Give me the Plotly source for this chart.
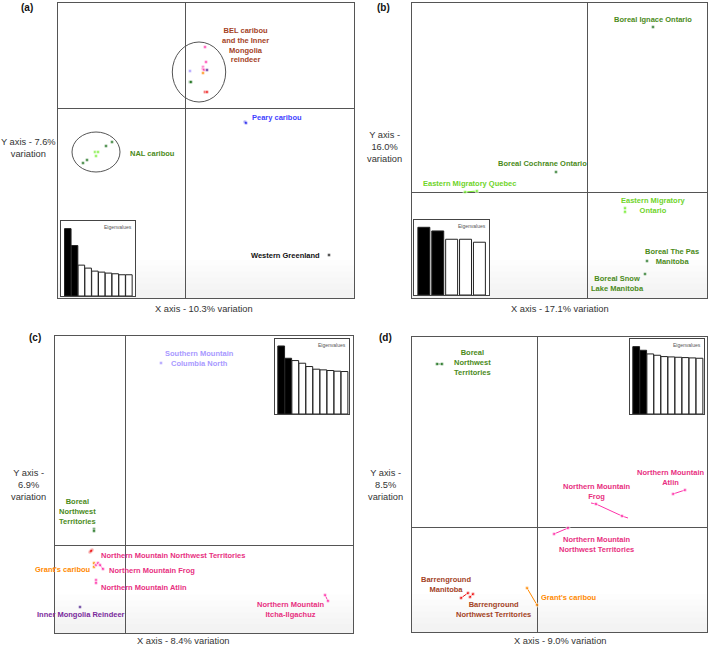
import plotly.graph_objects as go

W, H = 709, 646

# colours
DKGREEN = "#166d16"
LTGREEN = "#77ee33"
PINK = "#ff33aa"
RED = "#ee1111"
ORANGE = "#ff8800"
LAVENDER = "#a08fff"
INDIGO = "#4b1a8c"
BLUE = "#2525ee"
BLACK = "#111111"

L_BROWN = "#a3431f"
L_GREEN = "#4b8b1a"
L_LTGREEN = "#6fd42a"
L_PINK = "#e8307f"
L_LAV = "#a899ff"
L_PURPLE = "#7b2a9c"
L_BLUE = "#3f3fff"
L_ORANGE = "#ff8a00"

# ---- panel (a) ----
a_groups = [
    (PINK, [20, 21, 18, 18, 19], [61, 46, 41, 39, 38]),
    (INDIGO, [22], [38]),
    (ORANGE, [18], [35]),
    (LAVENDER, [5], [37]),
    (DKGREEN, [5, 6], [26, 26]),
    (RED, [20, 22], [16, 16]),
    (BLUE, [60, 61], [-14, -15]),
    (DKGREEN, [-73, -79, -98, -102], [-34, -38, -52, -55]),
    (LTGREEN, [-90, -87, -89], [-44, -44, -48]),
    (BLACK, [144], [-147]),
]
a_ellipses = [(14, 36, 26.7, 30), (-89, -44, 24, 20)]
a_labels = [
    ("BEL caribou<br>and the Inner<br>Mongolia<br>reindeer", 60, 63, L_BROWN, "center"),
    ("Peary caribou", 65, -9, L_BLUE, "left"),
    ("NAL caribou", -57, -45, L_GREEN, "left"),
    ("Western Greenland", 137, -147, BLACK, "right"),
]
eig_a = [203, 152, 93, 84, 75, 72, 69, 67, 64, 64]

# ---- panel (b) ----
b_groups = [
    (DKGREEN, [66], [165]),
    (DKGREEN, [-31], [20]),
    (LTGREEN, [-122, -110], [0, 1]),
    (LTGREEN, [38, 38], [-16, -20]),
    (DKGREEN, [60], [-69]),
    (DKGREEN, [58], [-82]),
]
b_labels = [
    ("Boreal Ignace Ontario", 66, 173, L_GREEN, "center"),
    ("Boreal Cochrane Ontario", -45, 29, L_GREEN, "center"),
    ("Eastern Migratory Quebec", -118, 9, L_LTGREEN, "center"),
    ("Eastern Migratory<br>Ontario", 66, -13, L_LTGREEN, "center"),
    ("Boreal The Pas<br>Manitoba", 85, -64, L_GREEN, "center"),
    ("Boreal Snow<br>Lake Manitoba", 30, -91, L_GREEN, "center"),
]
eig_b = [204, 193, 168, 168, 159]

# ---- panel (c) ----
c_groups = [
    (LAVENDER, [36], [182]),
    (DKGREEN, [-31, -31], [16, 14]),
    (RED, [-35, -33, -34], [-7, -5, -6]),
    (ORANGE, [-31, -31], [-18, -22]),
    (PINK, [-29, -27], [-20, -18]),
    (PINK, [-25, -22], [-20, -24]),
    (PINK, [-29, -29], [-35, -38]),
    (INDIGO, [-45], [-62]),
    (PINK, [200, 203], [-50, -56]),
]
c_labels = [
    ("Southern Mountain<br>Columbia North", 74, 187, L_LAV, "center"),
    ("Boreal<br>Northwest<br>Territories", -48, 34, L_GREEN, "center"),
    ("Barrenground<br>Northwest Territories<br>and Manitoba", -75, -4, L_BROWN, "center"),
    ("Grant's caribou", -62, -24, L_ORANGE, "center"),
    ("Northern Mountain Northwest Territories", -26, -10, L_PINK, "left"),
    ("Northern Mountain Frog", -18, -25, L_PINK, "left"),
    ("Northern Mountain Atlin", -26, -42, L_PINK, "left"),
    ("Inner Mongolia Reindeer", -44, -69, L_PURPLE, "center"),
    ("Northern Mountain<br>Itcha-Ilgachuz", 165, -64, L_PINK, "center"),
]
eig_c = [205, 168, 161, 153, 143, 135, 133, 131, 129, 128]

# ---- panel (d) ----
d_groups = [
    (DKGREEN, [-100, -95], [163, 163]),
    (PINK, [136, 148], [33, 37]),
    (PINK, [54, 59, 85, 91], [24, 23, 11, 9]),
    (PINK, [17, 31], [-7, -1]),
    (RED, [-76, -69], [-71, -66]),
    (RED, [-67, -64], [-70, -67]),
    (ORANGE, [-10, 0], [-61, -78]),
]
d_labels = [
    ("Boreal<br>Northwest<br>Territories", -65, 165, L_GREEN, "center"),
    ("Northern Mountain<br>Atlin", 133, 50, L_PINK, "center"),
    ("Northern Mountain<br>Frog", 59, 36, L_PINK, "center"),
    ("Northern Mountain<br>Northwest Territories", 59, -17, L_PINK, "center"),
    ("Barrenground<br>Manitoba", -91, -57, L_BROWN, "center"),
    ("Barrenground<br>Northwest Territories", -44, -82, L_BROWN, "center"),
    ("Grant's caribou", 2, -70, L_ORANGE, "left"),
]
eig_d = [203, 192, 181, 177, 173, 172, 171, 170, 169, 168]

# panel layout in pixels: box (left, top, right, bottom), crosshair (cx, cy)
panels = [
    dict(box=(58, 3, 354, 298), c=(185, 108), groups=a_groups, labels=a_labels,
         eig=eig_a, inset=(61, 221, 135, 296), tag="(a)", tagpos=(27, 7),
         xt="X axis - 10.3% variation", xtpos=(204, 309),
         yt="Y axis - 7.6%<br>variation", ytpos=(28, 148), lines=False),
    dict(box=(412, 3, 707, 298), c=(587, 192), groups=b_groups, labels=b_labels,
         eig=eig_b, inset=(414, 220, 489, 295), tag="(b)", tagpos=(383, 7),
         xt="X axis - 17.1% variation", xtpos=(560, 309),
         yt="Y axis -<br>16.0%<br>variation", ytpos=(384, 147), lines=True),
    dict(box=(55, 336, 353, 633), c=(125, 545), groups=c_groups, labels=c_labels,
         eig=eig_c, inset=(275, 339, 349, 414), tag="(c)", tagpos=(35, 337),
         xt="X axis - 8.4% variation", xtpos=(183, 641),
         yt="Y axis -<br>6.9%<br>variation", ytpos=(28, 485), lines=True),
    dict(box=(412, 337, 707, 632), c=(537, 527), groups=d_groups, labels=d_labels,
         eig=eig_d, inset=(630, 339, 704, 414), tag="(d)", tagpos=(385, 337),
         xt="X axis - 9.0% variation", xtpos=(560, 641),
         yt="Y axis -<br>8.5%<br>variation", ytpos=(385, 485), lines=True),
]

FONT = "Liberation Sans, Arial, Helvetica, sans-serif"
LABEL_SIZE = 7.5
fig = go.Figure()
layout = dict(width=W, height=H, margin=dict(l=0, r=0, t=0, b=0),
              paper_bgcolor="white", plot_bgcolor="white", showlegend=False,
              font=dict(family=FONT), annotations=[], shapes=[])


def dom(x0, y0, x1, y1):
    return [x0 / W, x1 / W], [1 - y1 / H, 1 - y0 / H]


def px(x, y):
    return x / W, 1 - y / H


for i, p in enumerate(panels):
    n = i + 1
    k = "" if n == 1 else str(n)
    l, t, r, b = p["box"]
    cx, cy = p["c"]
    dx, dy = dom(l, t, r, b)
    ax = dict(showgrid=False, zeroline=True, zerolinecolor="#555", zerolinewidth=1,
              showticklabels=False, ticks="", showline=True, mirror=True,
              linecolor="#555", linewidth=1)
    layout["xaxis" + k] = dict(domain=dx, range=[l - cx, r - cx], anchor="y" + k, **ax)
    layout["yaxis" + k] = dict(domain=dy, range=[cy - b, cy - t], anchor="x" + k, **ax)
    # faint shading at bottom of each panel
    for j in range(6):
        layout["shapes"].append(dict(type="rect", xref="x" + k + " domain" if k else "x domain",
                                     yref="y" + k + " domain" if k else "y domain",
                                     x0=0, x1=1, y0=0, y1=0.13 - j * 0.02, line_width=0,
                                     fillcolor="rgba(0,0,0,0.007)", layer="below"))
    for col, xs, ys in p["groups"]:
        sizes = [4] * len(xs)
        if len(xs) == 4 and n == 4:
            sizes = [0, 4, 4, 0]
        fig.add_trace(go.Scatter(x=xs, y=ys, xaxis="x" + k, yaxis="y" + k,
                                 mode="lines+markers" if p["lines"] else "markers",
                                 line=dict(color=col, width=1),
                                 marker=dict(color=col, size=sizes), hoverinfo="skip"))
    for txt, x, y, col, anc in p["labels"]:
        layout["annotations"].append(dict(text="<b>" + txt + "</b>", x=x, y=y,
                                          xref="x" + k, yref="y" + k, showarrow=False,
                                          xanchor=anc, yanchor="middle", align=anc,
                                          font=dict(size=LABEL_SIZE, color=col, family=FONT)))
    if n == 1:
        for ex, ey, rx, ry in a_ellipses:
            layout["shapes"].append(dict(type="circle", xref="x", yref="y",
                                         x0=ex - rx, x1=ex + rx, y0=ey - ry, y1=ey + ry,
                                         line=dict(color="#555", width=1)))
    # inset eigenvalue bars
    m = n + 4
    il, it, ir, ib = p["inset"]
    idx, idy = dom(il, it, ir, ib)
    eig = p["eig"]
    nb = len(eig)
    if nb == 5:
        xr = [-0.71, 4.69]
        gap = 0.14
    elif n == 1:
        xr = [-1.0, 9.9]
        gap = 0.04
    else:
        xr = [-0.88, 9.64]
        gap = 0.04
    fig.add_trace(go.Bar(x=list(range(nb)), y=eig, xaxis="x%d" % m, yaxis="y%d" % m,
                         marker=dict(color=["black"] * 2 + ["white"] * (nb - 2),
                                     line=dict(color="#222", width=1)),
                         width=1 - gap, hoverinfo="skip"))
    layout["xaxis%d" % m] = dict(domain=idx, range=xr, anchor="y%d" % m,
                                 showgrid=False, zeroline=False, showticklabels=False,
                                 ticks="", showline=True, mirror=True,
                                 linecolor="#444", linewidth=1)
    layout["yaxis%d" % m] = dict(domain=idy, range=[0, 226], anchor="x%d" % m,
                                 showgrid=False, zeroline=False, showticklabels=False,
                                 ticks="", showline=True, mirror=True,
                                 linecolor="#444", linewidth=1)
    layout["annotations"].append(dict(text="Eigenvalues", xref="x%d domain" % m,
                                      yref="y%d domain" % m, x=0.99, y=0.99,
                                      xanchor="right", yanchor="top", showarrow=False,
                                      font=dict(size=5, color="#555", family=FONT)))
    # titles
    tx, ty = px(*p["tagpos"])
    layout["annotations"].append(dict(text="<b>" + p["tag"] + "</b>", x=tx, y=ty,
                                      xref="paper", yref="paper",
                                      showarrow=False, xanchor="center", yanchor="middle",
                                      font=dict(size=10, color="#111", family=FONT)))
    xx, xy = px(*p["xtpos"])
    layout["annotations"].append(dict(text=p["xt"], x=xx, y=xy,
                                      xref="paper", yref="paper", showarrow=False,
                                      xanchor="center", yanchor="middle",
                                      font=dict(size=9.3, color="#333", family=FONT)))
    yx, yy = px(*p["ytpos"])
    layout["annotations"].append(dict(text=p["yt"], x=yx, y=yy,
                                      xref="paper", yref="paper", showarrow=False,
                                      xanchor="center", yanchor="middle", align="center",
                                      font=dict(size=9.3, color="#333", family=FONT)))

fig.update_layout(**layout)
# drop the page's default body margin so the figure fills the window from its corner
fig.write_html("out.html", config={"displayModeBar": False},
               post_script="document.body.style.margin='0';document.body.style.padding='0';")
